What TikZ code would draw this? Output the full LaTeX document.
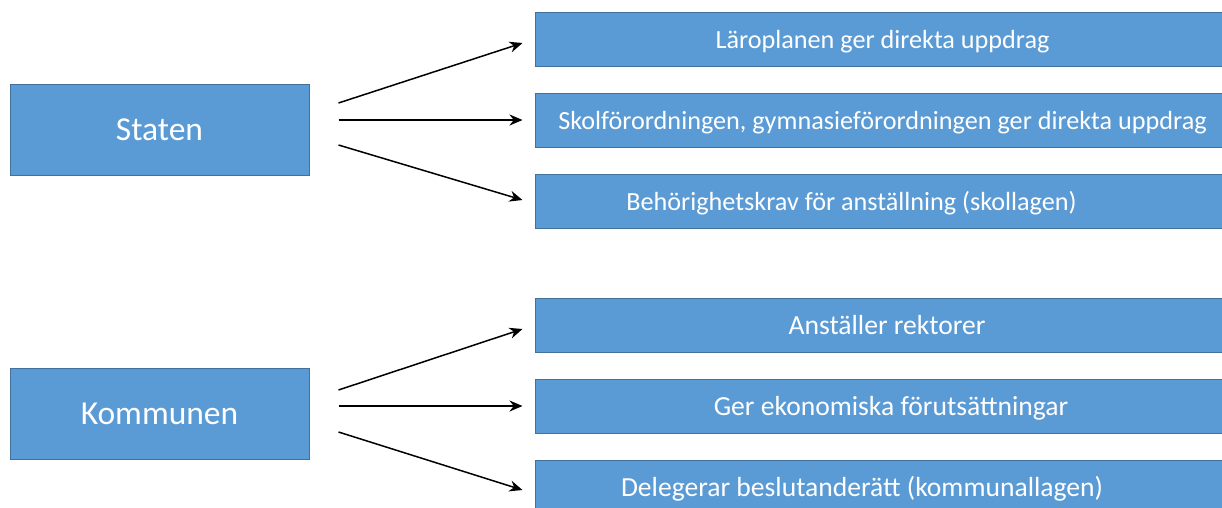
\documentclass[tikz,border=0pt]{standalone}
\usepackage{fontspec}
\setmainfont{Carlito}
\usetikzlibrary{arrows.meta}
\definecolor{boxfill}{HTML}{5B9BD5}
\definecolor{boxline}{HTML}{41719C}
\begin{document}
\begin{tikzpicture}[x = 1pt, y = -1pt,
  actor/.style = {draw = boxline, fill = boxfill, line width = 1pt, text = white,
    minimum width = 299pt, minimum height = 91pt, text height = 22pt, text depth = 2pt,
    font = \fontsize{33.5}{40}\selectfont},
  task/.style = {draw = boxline, fill = boxfill, line width = 1pt, text = white,
    minimum width = 695pt, minimum height = 54pt, text height = 20pt, text depth = 2pt,
    font = \fontsize{26.2}{31}\selectfont},
  bigtask/.style = {task, font = \fontsize{27.6}{33}\selectfont},
  arr/.style = {line width = 1.5pt, -{Stealth[length = 13pt, width = 11pt]}}]

\useasboundingbox (0,0) rectangle (1222,507);

\node[actor] (staten) at (159.5,130) {Staten};
\node[actor] (kommunen) at (159.5,414) {Kommunen};

\node[task] (laroplan) at (882.5,39) {Läroplanen ger direkta uppdrag};
\node[task] (forordning) at (882.5,120) {Skolförordningen, gymnasieförordningen ger direkta uppdrag};
\node[task] (behorighet) at (882.5,201) {\hspace*{-62pt}Behörighetskrav för anställning (skollagen)};

\node[bigtask] (rektorer) at (882.5,325) {\hspace*{9pt}Anställer rektorer};
\node[bigtask] (ekonomi) at (882.5,406) {\hspace*{17pt}Ger ekonomiska förutsättningar};
\node[bigtask] (delegera) at (882.5,487) {\hspace*{-41pt}Delegerar beslutanderätt (kommunallagen)};

\draw[arr] ([xshift = 29pt, yshift = 27pt]staten.east) -- ([xshift = -12pt, yshift = -4pt]laroplan.west);
\draw[arr] ([xshift = 29pt, yshift = 10pt]staten.east) -- ([xshift = -12pt]forordning.west);
\draw[arr] ([xshift = 29pt, yshift = -15pt]staten.east) -- ([xshift = -12pt, yshift = 1pt]behorighet.west);

\draw[arr] ([xshift = 29pt, yshift = 24pt]kommunen.east) -- ([xshift = -12pt, yshift = -4pt]rektorer.west);
\draw[arr] ([xshift = 29pt, yshift = 8pt]kommunen.east) -- ([xshift = -12pt]ekonomi.west);
\draw[arr] ([xshift = 29pt, yshift = -18pt]kommunen.east) -- ([xshift = -12pt, yshift = -3pt]delegera.west);
\end{tikzpicture}
\end{document}
